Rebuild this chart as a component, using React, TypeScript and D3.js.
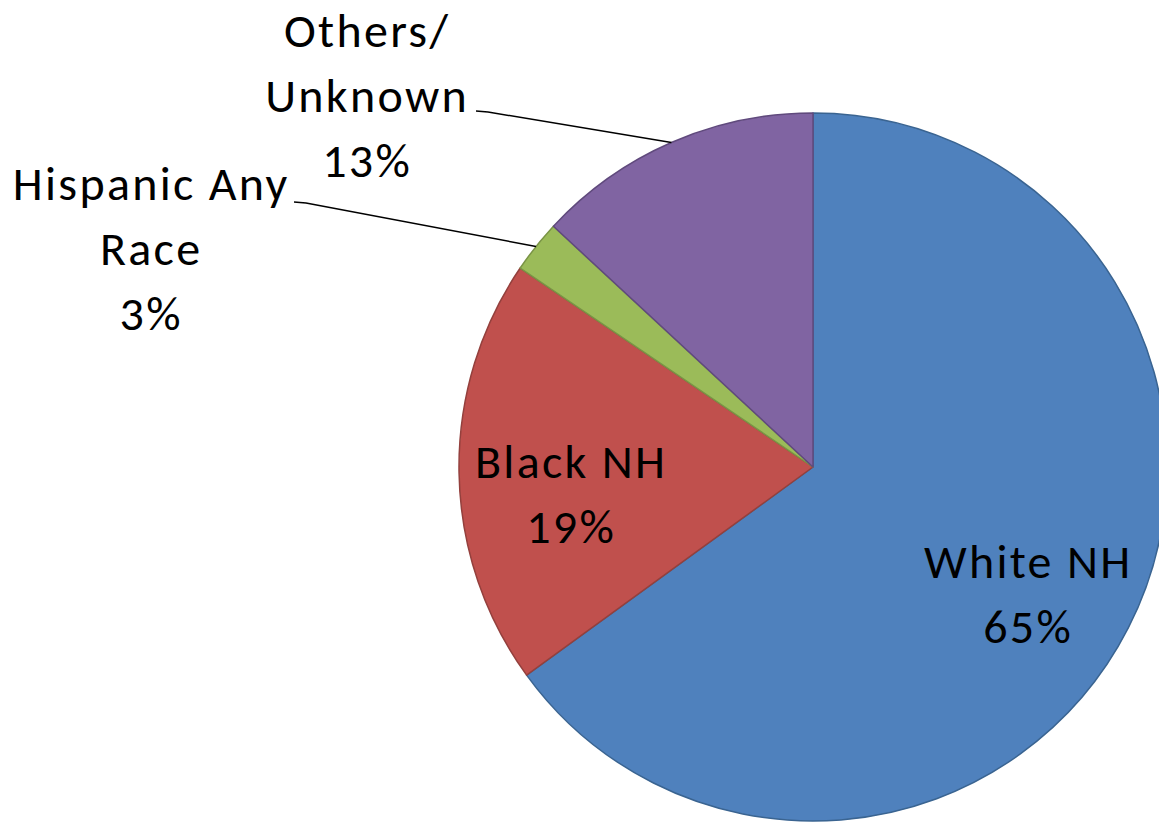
import React from "react";
import * as d3 from "d3";

const categories = ["White NH", "Black NH", "Hispanic Any Race", "Others/ Unknown"];
const values = [65.0, 19.5, 2.4, 13.1];
const percentLabels = ["65%", "19%", "3%", "13%"];
const labelLines = [["White NH"], ["Black NH"], ["Hispanic Any", "Race"], ["Others/", "Unknown"]];
const fills = ["#4F81BD", "#C0504D", "#9BBB59", "#8064A2"];
const strokes = ["#3A6491", "#94403D", "#7A9445", "#604A7D"];

// layout (not data)
const W = 1159, H = 822;
const cx = 813, cy = 467, R = 354;
const FONT = 48;
const LINE = 65;
const LS = 2.3;
const labelLayout = [
  { x: 1027, y: 578, outside: false },
  { x: 570, y: 478, outside: false },
  { x: 150, y: 200, outside: true, lineStart: [294, 202], elbow: [306, 203] },
  { x: 366, y: 47, outside: true, lineStart: [476, 111], elbow: [488, 112] },
];

export default function App() {
  const pie = d3.pie<number>().sort(null).value((d) => d)(values);
  const arc = d3.arc<d3.PieArcDatum<number>>().innerRadius(0).outerRadius(R);
  return (
    <svg width={W} height={H} style={{ position: "absolute", left: 0, top: 0, background: "#fff" }}>
      <g transform={`translate(${cx},${cy})`}>
        {pie.map((p, i) => (
          <path key={categories[i]} d={arc(p) || ""} fill={fills[i]} stroke={strokes[i]} strokeWidth={1.5} strokeLinejoin="round" />
        ))}
      </g>
      {pie.map((p, i) => {
        const L = labelLayout[i];
        if (!L.outside) return null;
        const mid = (p.startAngle + p.endAngle) / 2;
        const ex = cx + R * Math.sin(mid);
        const ey = cy - R * Math.cos(mid);
        return (
          <polyline
            key={"l" + i}
            points={`${L.lineStart![0]},${L.lineStart![1]} ${L.elbow![0]},${L.elbow![1]} ${ex},${ey}`}
            fill="none"
            stroke="#000"
            strokeWidth={1.5}
          />
        );
      })}
      {labelLayout.map((L, i) => {
        const lines = [...labelLines[i], percentLabels[i]];
        return (
          <text key={"t" + i} textAnchor="middle" fontFamily="Carlito, Calibri, Lato, sans-serif" fontSize={FONT} letterSpacing={LS} fill="#000">
            {lines.map((s, j) => (
              <tspan key={j} x={L.x + LS / 2} y={L.y + j * LINE}>{s}</tspan>
            ))}
          </text>
        );
      })}
    </svg>
  );
}
